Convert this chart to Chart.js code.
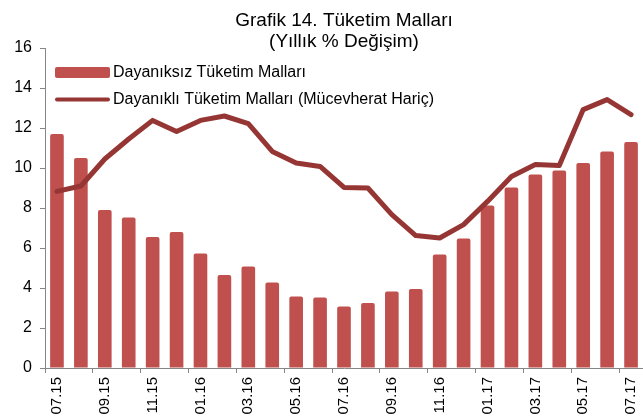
<!DOCTYPE html>
<html>
<head>
<meta charset="utf-8">
<script src="https://cdn.jsdelivr.net/npm/chart.js@4.4.1/dist/chart.umd.min.js"></script>
<style>
html,body{margin:0;padding:0;background:#ffffff;}
#wrap{width:643px;height:419px;position:relative;}
</style>
</head>
<body>
<div id="wrap"><canvas id="c"></canvas></div>
<script>
// ---- data ----
const months = ['07.15','08.15','09.15','10.15','11.15','12.15','01.16','02.16','03.16','04.16','05.16','06.16','07.16','08.16','09.16','10.16','11.16','12.16','01.17','02.17','03.17','04.17','05.17','06.17','07.17'];
const nonDurable = [11.7,10.5,7.9,7.53,6.55,6.8,5.73,4.65,5.08,4.28,3.58,3.53,3.08,3.25,3.83,3.95,5.67,6.48,8.12,9.03,9.67,9.87,10.25,10.82,11.3];
const durable = [8.83,9.1,10.45,11.45,12.38,11.83,12.38,12.6,12.22,10.83,10.25,10.08,9.03,9.0,7.67,6.62,6.5,7.17,8.33,9.58,10.17,10.12,12.92,13.42,12.67];
const yTickValues = [0,2,4,6,8,10,12,14,16];
const titleLines = ['Grafik 14. Tüketim Malları','(Yıllık % Değişim)'];
const seriesNames = ['Dayanıksız Tüketim Malları','Dayanıklı Tüketim Malları (Mücevherat Hariç)'];

// ---- style ----
const FONT = '"Liberation Sans", Arial, sans-serif';
const BAR_COLOR = '#C0504D';
const LINE_COLOR = '#963634';
const AXIS_COLOR = '#868686';

Chart.defaults.font.family = FONT;
Chart.defaults.color = '#000000';

const titlePlugin = {
  id: 'titleText',
  afterDraw(chart) {
    const ctx = chart.ctx, a = chart.chartArea;
    ctx.save();
    ctx.fillStyle = '#000';
    ctx.font = '19px ' + FONT;
    ctx.textAlign = 'center';
    ctx.textBaseline = 'middle';
    const cx = (a.left + a.right) / 2;
    ctx.fillText(titleLines[0], cx, 21);
    ctx.fillText(titleLines[1], cx, 42);
    ctx.restore();
  }
};

const legendPlugin = {
  id: 'innerLegend',
  afterDraw(chart) {
    const ctx = chart.ctx, a = chart.chartArea;
    const ds = chart.data.datasets;
    const barDs = ds.find(d => d.type === 'bar');
    const lineDs = ds.find(d => d.type === 'line');
    const x0 = a.left + 10, w = 55;
    ctx.save();
    // bar item
    let y = a.top + 24.5;
    ctx.fillStyle = barDs.backgroundColor;
    ctx.beginPath();
    if (ctx.roundRect) ctx.roundRect(x0, y - 5.5, w, 11, 2); else ctx.rect(x0, y - 5.5, w, 11);
    ctx.fill();
    ctx.fillStyle = '#000';
    ctx.font = '16px ' + FONT;
    ctx.textAlign = 'left';
    ctx.textBaseline = 'middle';
    ctx.fillText(barDs.label, x0 + w + 3, y);
    // line item
    y = a.top + 51.5;
    ctx.strokeStyle = lineDs.borderColor;
    ctx.lineWidth = 4;
    ctx.lineCap = 'round';
    ctx.beginPath();
    ctx.moveTo(x0 + 2, y);
    ctx.lineTo(x0 + w - 2, y);
    ctx.stroke();
    ctx.fillText(lineDs.label, x0 + w + 3, y);
    ctx.restore();
  }
};

new Chart(document.getElementById('c'), {
  type: 'bar',
  data: {
    labels: months,
    datasets: [
      {
        type: 'line',
        label: seriesNames[1],
        data: durable,
        borderColor: LINE_COLOR,
        backgroundColor: LINE_COLOR,
        borderWidth: 5,
        pointRadius: 0,
        tension: 0,
        borderCapStyle: 'round',
        borderJoinStyle: 'round',
        order: 0
      },
      {
        type: 'bar',
        label: seriesNames[0],
        data: nonDurable,
        backgroundColor: BAR_COLOR,
        barPercentage: 0.57,
        categoryPercentage: 1.0,
        borderRadius: {topLeft: 2, topRight: 2, bottomLeft: 0, bottomRight: 0},
        borderSkipped: 'start',
        order: 1
      }
    ]
  },
  options: {
    responsive: true,
    maintainAspectRatio: false,
    animation: false,
    devicePixelRatio: 1,
    layout: {padding: {top: 48, right: 0, left: 0, bottom: 0}},
    plugins: {legend: {display: false}, tooltip: {enabled: false}, title: {display: false}},
    scales: {
      x: {
        offset: true,
        grid: {
          offset: true,
          drawOnChartArea: false,
          drawTicks: true,
          tickLength: 5,
          color: (c) => (c.index % 2 === 0 ? AXIS_COLOR : 'rgba(0,0,0,0)'),
          lineWidth: 1
        },
        border: {display: true, color: AXIS_COLOR, width: 1},
        ticks: {
          autoSkip: false,
          maxRotation: 90,
          minRotation: 90,
          padding: 4,
          font: {size: 15},
          color: '#000',
          callback: (v, i) => (i % 2 === 0 ? months[i] : '')
        },
        afterFit: (s) => { s.height = 51; s.paddingLeft = 0; s.paddingRight = 0; }
      },
      y: {
        min: 0,
        max: 16,
        afterBuildTicks: (s) => { s.ticks = yTickValues.map(v => ({value: v})); },
        grid: {drawOnChartArea: false, drawTicks: true, tickLength: 5, color: AXIS_COLOR},
        border: {display: true, color: AXIS_COLOR, width: 1},
        ticks: {padding: 8, font: {size: 16}, color: '#000'},
        afterFit: (s) => { s.width = 45; s.paddingTop = 0; s.paddingBottom = 0; }
      }
    }
  },
  plugins: [titlePlugin, legendPlugin]
});
</script>
</body>
</html>
